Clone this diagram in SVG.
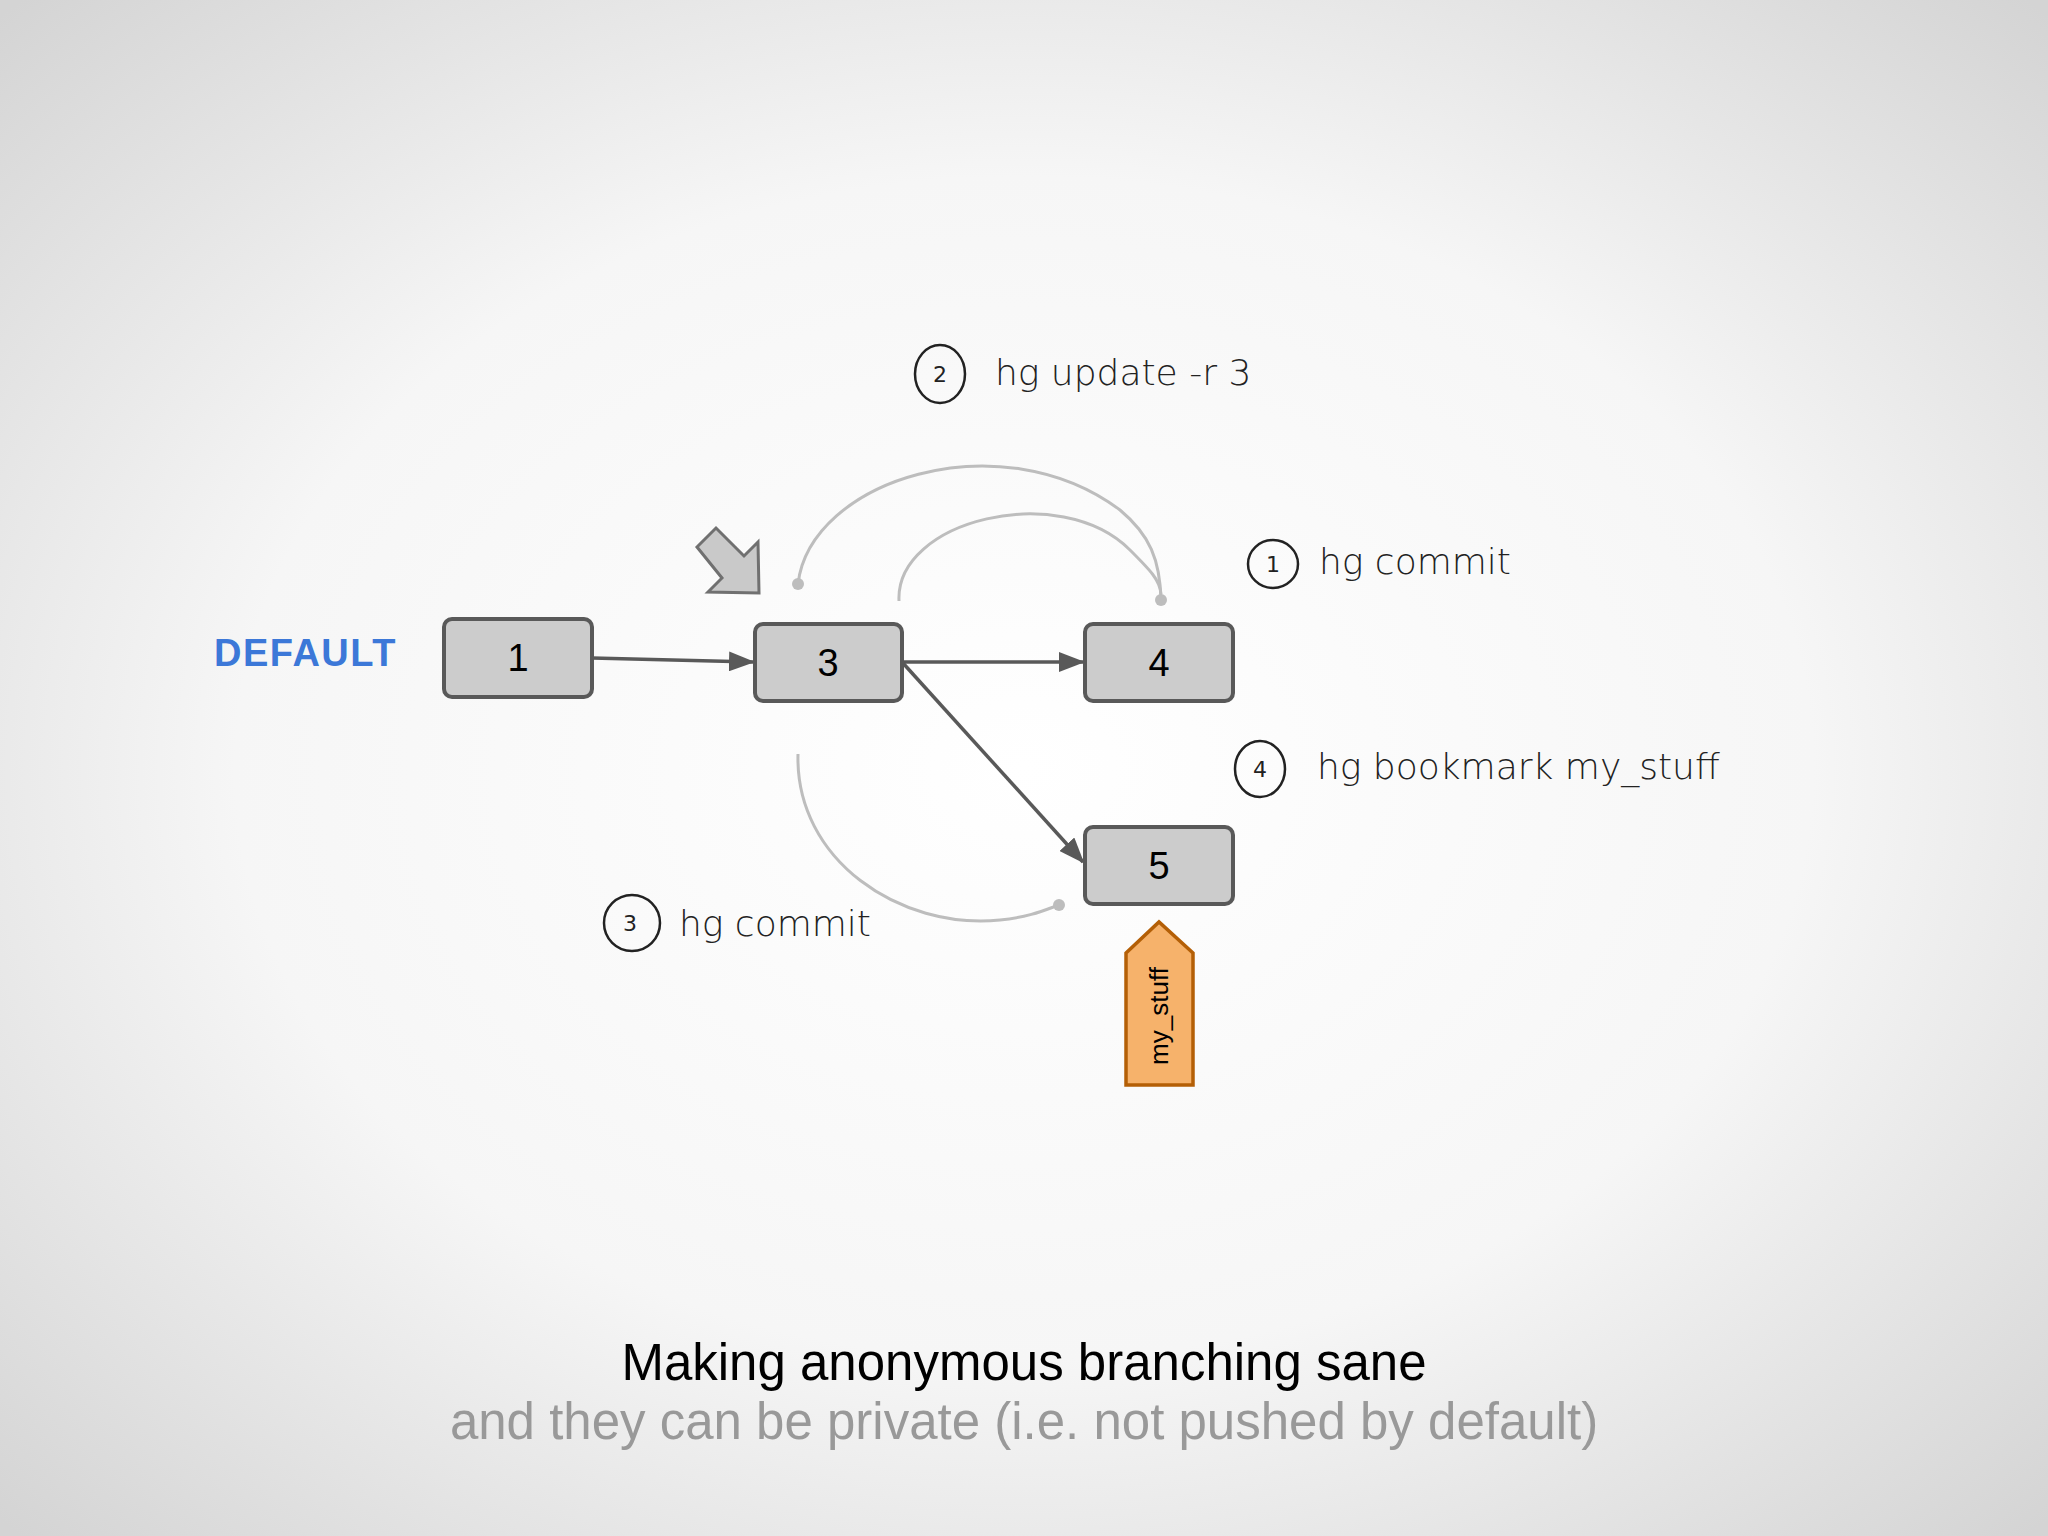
<svg xmlns="http://www.w3.org/2000/svg" width="2048" height="1536" viewBox="0 0 2048 1536">
<defs>
<radialGradient id="bg" cx="50%" cy="50%" r="70%">
<stop offset="0" stop-color="#ffffff"/><stop offset="0.55" stop-color="#f6f6f6"/><stop offset="1" stop-color="#d4d4d4"/>
</radialGradient>
<marker id="ah" markerWidth="26" markerHeight="20" refX="24" refY="10" orient="auto" markerUnits="userSpaceOnUse" viewBox="0 0 26 20">
<path d="M0,0 L26,10 L0,20 z" fill="#595959"/>
</marker>
<style>
.node rect{fill:#cccccc;stroke:#595959;stroke-width:4}
.node text{font-family:"Liberation Sans",Arial,sans-serif;font-size:38px;fill:#000;text-anchor:middle}
.edge{stroke:#595959;stroke-width:3.5;fill:none;marker-end:url(#ah)}
.arc{stroke:#bdbdbd;stroke-width:3;fill:none}
.hand{font-family:"DejaVu Sans",sans-serif;font-weight:200;font-size:36px;fill:#222}
.circ{fill:none;stroke:#222;stroke-width:2.5}
.num{font-family:"DejaVu Sans",sans-serif;font-size:22px;fill:#222;text-anchor:middle}
</style>
</defs>
<rect width="2048" height="1536" fill="url(#bg)"/>
<text x="214" y="666" font-family="Liberation Sans,Arial,sans-serif" font-weight="bold" font-size="38" letter-spacing="1.5" fill="#3c78d8">DEFAULT</text>
<g id="connectors">
<path class="edge" d="M592,658 L753,662"/>
<path class="edge" d="M902,662 L1083,662"/>
<path class="edge" d="M902,662 L1083,862"/>
<path class="arc" d="M798,584 C810,480 1000,420 1120,510 C1150,535 1160,560 1161,600"/>
<path class="arc" d="M899,601 C895,520 1060,480 1130,550 C1150,570 1160,580 1161,594"/>
<path class="arc" d="M798,754 C795,860 900,930 1000,920 C1030,917 1045,910 1059,905"/>
<circle cx="798" cy="584" r="6" fill="#bdbdbd"/>
<circle cx="1161" cy="600" r="6" fill="#bdbdbd"/>
<circle cx="1059" cy="905" r="6" fill="#bdbdbd"/>
</g>
<g id="pointer"><path d="M697,547 L716,528 L744,556 L758,542 L759,593 L708,592 L722,578 z" fill="#c9c9c9" stroke="#707070" stroke-width="3"/></g>
<g id="n1" class="node"><rect x="444" y="619" width="148" height="78" rx="8"/><text x="518" y="671">1</text></g>
<g id="n3" class="node"><rect x="755" y="624" width="147" height="77" rx="8"/><text x="828" y="676">3</text></g>
<g id="n4" class="node"><rect x="1085" y="624" width="148" height="77" rx="8"/><text x="1159" y="676">4</text></g>
<g id="n5" class="node"><rect x="1085" y="827" width="148" height="77" rx="8"/><text x="1159" y="879">5</text></g>
<g id="tag"><path d="M1126,953 L1159,922 L1193,953 L1193,1085 L1126,1085 z" fill="#f6b26b" stroke="#b45f06" stroke-width="3.5"/>
<text transform="translate(1168,1016) rotate(-90)" text-anchor="middle" font-family="Liberation Sans,Arial,sans-serif" font-size="26" fill="#000">my_stuff</text></g>
<g id="labels">
<ellipse class="circ" cx="940" cy="374" rx="25" ry="29"/><text class="num" x="940" y="382">2</text>
<text class="hand" x="995" y="385">hg update -r 3</text>
<ellipse class="circ" cx="1273" cy="564" rx="25" ry="24"/><text class="num" x="1273" y="572">1</text>
<text class="hand" x="1319" y="574">hg commit</text>
<ellipse class="circ" cx="1260" cy="769" rx="25" ry="28"/><text class="num" x="1260" y="777">4</text>
<text class="hand" x="1317" y="779">hg bookmark my_stuff</text>
<ellipse class="circ" cx="632" cy="923" rx="28" ry="28"/><text class="num" x="630" y="931">3</text>
<text class="hand" x="679" y="936">hg commit</text>
</g>
<text x="1024" y="1380" text-anchor="middle" font-family="Liberation Sans,Arial,sans-serif" font-size="51" fill="#000">Making anonymous branching sane</text>
<text x="1024" y="1439" text-anchor="middle" font-family="Liberation Sans,Arial,sans-serif" font-size="51" fill="#999999">and they can be private (i.e. not pushed by default)</text>
</svg>
